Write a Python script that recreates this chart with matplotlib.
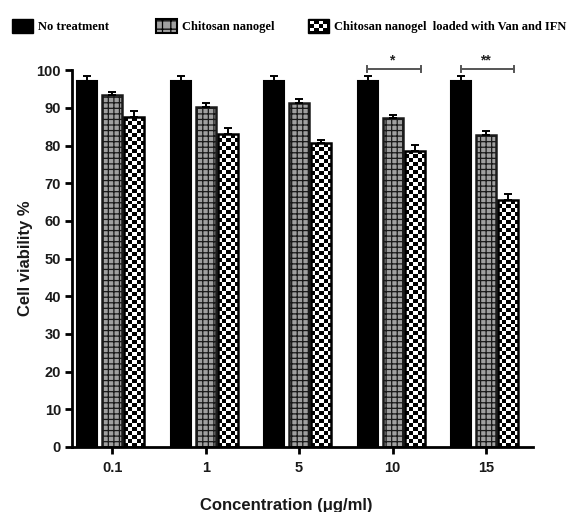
import numpy as np
import matplotlib
matplotlib.use("Agg")
import matplotlib.pyplot as plt
from matplotlib.patches import Rectangle, Patch
from matplotlib.legend_handler import HandlerBase

plt.rcParams["hatch.linewidth"] = 0.9

concentrations = ["0.1", "1", "5", "10", "15"]
no_treatment = [97.2, 97.2, 97.2, 97.2, 97.2]
no_treatment_err = [1.3, 1.3, 1.3, 1.3, 1.3]
nanogel = [93.4, 90.3, 91.3, 87.3, 82.8]
nanogel_err = [0.8, 0.9, 1.0, 0.8, 1.0]
loaded = [87.5, 83.0, 80.6, 78.6, 65.5]
loaded_err = [1.6, 1.6, 0.9, 1.5, 1.5]
series_names = ["No treatment", "Chitosan nanogel", "Chitosan nanogel  loaded with Van and IFN"]
sig_groups = [3, 4]
sig_marks = ["*", "**"]

SANS = "Liberation Sans"
SERIF = "Liberation Serif"
GRAY = "#a0a0a0"

fig = plt.figure(figsize=(5.76, 5.12), dpi=100)
ax = fig.add_axes([0.125, 0.127, 0.80, 0.736])

x = np.arange(len(concentrations))
w = 0.215
offs = [-0.265, 0.0, 0.235]

ax.bar(x + offs[0], no_treatment, w, color="black", edgecolor="black", lw=1.5, zorder=2)
ax.bar(x + offs[1], nanogel, w, color=GRAY, edgecolor="#1a1a1a", hatch="+++", lw=1.8, zorder=2)
chk = ax.bar(x + offs[2], loaded, w, color="white", edgecolor="black", lw=1.8, zorder=3)

# checkerboard fill for the loaded-nanogel bars, clipped to each bar
cell_x, cell_y = 0.043, 1.06
for rect in chk:
    x0, bw, h = rect.get_x(), rect.get_width(), rect.get_height()
    nx = max(1, int(round(bw / cell_x)))
    ny = max(1, int(round(h / cell_y)))
    ii, jj = np.indices((ny, nx))
    board = ((ii + jj) % 2).astype(float)
    im = ax.imshow(board, cmap="gray", vmin=0, vmax=1, extent=[x0, x0 + bw, 0, h],
                   aspect="auto", interpolation="nearest", origin="lower", zorder=2.5)
    im.set_clip_path(rect)
    rect.set_facecolor("none")

for vals, errs, off in [(no_treatment, no_treatment_err, offs[0]),
                        (nanogel, nanogel_err, offs[1]),
                        (loaded, loaded_err, offs[2])]:
    ax.errorbar(x + off, vals, yerr=[np.zeros(len(errs)), errs], fmt="none",
                ecolor="black", elinewidth=1.4, capsize=3, capthick=1.4, zorder=4, clip_on=False)

# significance brackets
for g, mark in zip(sig_groups, sig_marks):
    xl, xr = g - 0.27, g + 0.30
    yb = 100.4
    ax.plot([xl, xr], [yb, yb], color="#555555", lw=1.4, clip_on=False, zorder=5)
    for xe in (xl, xr):
        ax.plot([xe, xe], [yb - 0.8, yb + 0.8], color="#555555", lw=1.4, clip_on=False, zorder=5)
    ax.text((xl + xr) / 2 - 0.02, yb + 0.3, mark, ha="center", va="bottom", fontsize=10,
            fontweight="bold", color="#222222", family=SANS)

ax.set_xlim(-0.43, 4.5)
ax.set_ylim(0, 100)
ax.set_yticks(np.arange(0, 101, 10))
ax.set_xticks(x)
ax.set_xticklabels(concentrations)
for lab in ax.get_xticklabels() + ax.get_yticklabels():
    lab.set_fontsize(10.5)
    lab.set_fontweight("bold")
    lab.set_family(SANS)
    lab.set_color("#1a1a1a")
ax.tick_params(axis="both", direction="out", length=5, width=2, color="black", pad=3)
ax.tick_params(axis="x", pad=5)
for s in ["top", "right"]:
    ax.spines[s].set_visible(False)
for s in ["left", "bottom"]:
    ax.spines[s].set_linewidth(2)

ax.set_ylabel("Cell viability %", fontsize=12, fontweight="bold", family=SANS, color="#1a1a1a")
ax.yaxis.set_label_coords(-0.085, 0.5)
ax.set_xlabel("Concentration (\u03bcg/ml)", fontsize=12, fontweight="bold", family=SANS, color="#1a1a1a")
ax.xaxis.set_label_coords(0.465, -0.135)


class CheckerHandler(HandlerBase):
    def create_artists(self, legend, orig_handle, xdescent, ydescent, width, height, fontsize, trans):
        arts = [Rectangle((-xdescent, -ydescent), width, height, facecolor="black",
                          edgecolor="black", transform=trans)]
        n = 4
        m = 3
        pad = width * 0.08
        cw = (width - 2 * pad) / n
        chh = (height - 2 * pad) / m
        for i in range(m):
            for j in range(n):
                if (i + j) % 2 == 0:
                    arts.append(Rectangle((-xdescent + pad + j * cw, -ydescent + pad + i * chh), cw, chh,
                                          facecolor="white", edgecolor="none", transform=trans))
        return arts


handles = [Patch(facecolor="black", edgecolor="black"),
           Patch(facecolor=GRAY, edgecolor="black", hatch="++", lw=1.5),
           Patch(facecolor="white", edgecolor="black")]
anchors = [0.021, 0.271, 0.535]
for hnd, name, ax_x in zip(handles, series_names, anchors):
    hm = {hnd: CheckerHandler()} if hnd is handles[2] else None
    fig.legend([hnd], [name], loc="center left", bbox_to_anchor=(ax_x, 1 - 26 / 512),
               frameon=False, borderpad=0, borderaxespad=0, handlelength=1.68,
               handleheight=1.36, handletextpad=0.4,
               prop={"family": SERIF, "weight": "bold", "size": 9},
               handler_map=hm)

fig.savefig("out.png", dpi=100, facecolor="white")
